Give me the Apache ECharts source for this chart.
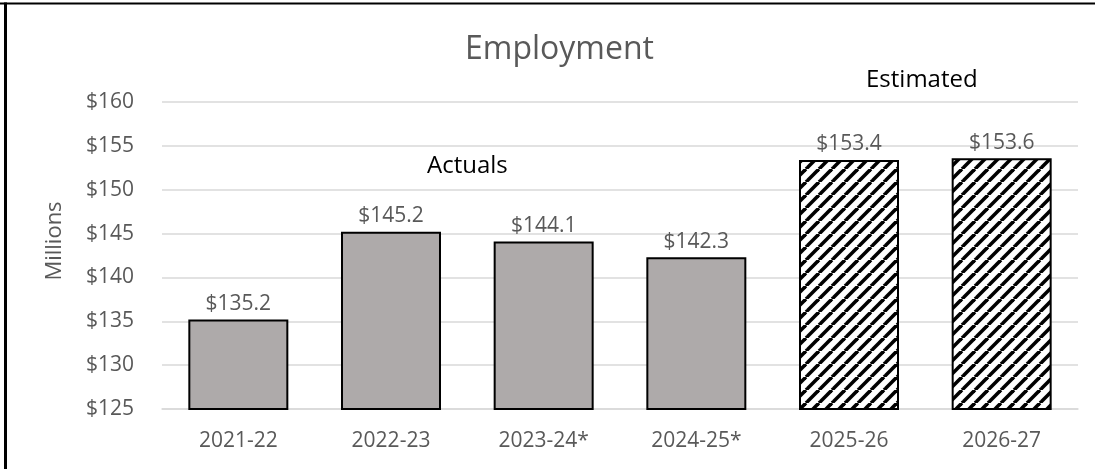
<!DOCTYPE html>
<html lang="en">
<head>
<meta charset="UTF-8">
<title>Employment</title>
<script src="https://cdn.jsdelivr.net/npm/echarts@6.0.0/dist/echarts.min.js"></script>
<style>
  body { margin: 0; background: #fff; }
</style>
</head>
<body>
<div id="chart" style="width: 1095px; height: 469px;"></div>
<script>
// data
const years = ['2021-22', '2022-23', '2023-24*', '2024-25*', '2025-26', '2026-27'];
const amounts = [135.2, 145.2, 144.1, 142.3, 153.4, 153.6];
const estimated = [false, false, false, false, true, true];
const yTicks = { min: 125, max: 160, step: 5 };

// diagonal hatch for the estimated bars
function hatchPattern() {
  const p = 13;
  const c = document.createElement('canvas');
  c.width = p; c.height = p;
  const ctx = c.getContext('2d');
  ctx.fillStyle = '#fff';
  ctx.fillRect(0, 0, p, p);
  ctx.strokeStyle = '#000';
  ctx.lineWidth = 3.6;
  for (let k = -1; k <= 1; k++) {
    ctx.beginPath();
    ctx.moveTo(k * p, p);
    ctx.lineTo(k * p + p, 0);
    ctx.stroke();
  }
  return c;
}
const hatch = { image: hatchPattern(), repeat: 'repeat' };

const font = '"Open Sans", "Liberation Sans", sans-serif';
const grey = '#595959';

const chart = echarts.init(document.getElementById('chart'));
chart.setOption({
  animation: false,
  textStyle: { fontFamily: font },
  title: {
    text: 'Employment',
    left: 465,
    top: 34,
    padding: 0,
    textStyle: { fontFamily: font, fontSize: 32, fontWeight: 'normal', color: grey }
  },
  grid: { left: 162, right: 17, top: 102, bottom: 60, containLabel: false },
  xAxis: {
    type: 'category',
    data: years,
    axisTick: { show: false },
    axisLine: { lineStyle: { color: '#d9d9d9', width: 1.5 } },
    axisLabel: { color: grey, fontSize: 21, margin: 22, fontFamily: font }
  },
  yAxis: {
    type: 'value',
    min: yTicks.min,
    max: yTicks.max,
    interval: yTicks.step,
    axisLine: { show: false },
    axisTick: { show: false },
    splitLine: { lineStyle: { color: '#d9d9d9', width: 1.5 } },
    axisLabel: { color: grey, fontSize: 21, margin: 28, fontFamily: font, formatter: v => '$' + v }
  },
  series: [{
    type: 'bar',
    barWidth: '65.5%',
    data: amounts.map((v, i) => ({
      value: v,
      itemStyle: { color: estimated[i] ? hatch : '#aeaaaa', borderColor: '#000', borderWidth: 2 }
    })),
    label: {
      show: true,
      position: 'top',
      distance: 5,
      color: grey,
      fontSize: 21,
      fontFamily: font,
      formatter: p => '$' + p.value.toFixed(1)
    }
  }],
  graphic: [
    { type: 'line', shape: { x1: 0, y1: 3.5, x2: 1095, y2: 3.5 }, style: { stroke: '#000', lineWidth: 2 } },
    { type: 'line', shape: { x1: 5.5, y1: 2.5, x2: 5.5, y2: 469 }, style: { stroke: '#000', lineWidth: 3 } },
    { type: 'text', left: 427, top: 154, style: { text: 'Actuals', fill: '#000', font: '24px ' + font } },
    { type: 'text', left: 866, top: 68, style: { text: 'Estimated', fill: '#000', font: '24px ' + font } },
    {
      type: 'text', x: 55, y: 241, rotation: Math.PI / 2,
      style: { text: 'Millions', fill: grey, font: '22px ' + font, align: 'center', verticalAlign: 'middle' }
    }
  ]
});
</script>
</body>
</html>
